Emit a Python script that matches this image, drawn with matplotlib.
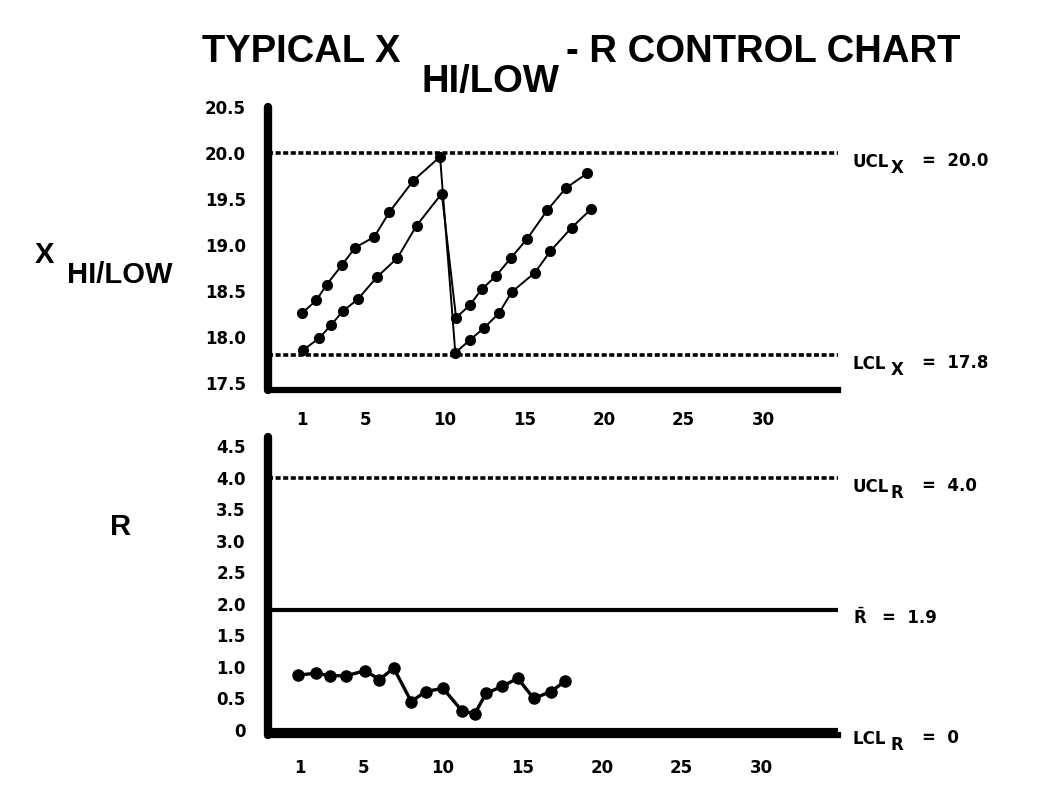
import matplotlib
matplotlib.use("Agg")
import matplotlib.pyplot as plt

# ---------------- data ----------------
# X HI/LOW chart: two traces (first 9 points then second 9 points after the drop)
x_trace_a = [1.0, 1.9, 2.55, 3.5, 4.33, 5.55, 6.5, 8.0, 9.68,
             10.64, 11.57, 12.45, 13.39, 14.19, 15.65, 16.6, 17.96, 19.18]
y_trace_a = [18.26, 18.40, 18.57, 18.78, 18.97, 19.09, 19.36, 19.70, 19.96,
             17.83, 17.97, 18.10, 18.26, 18.49, 18.70, 18.93, 19.19, 19.39]
x_trace_b = [1.08, 2.09, 2.82, 3.56, 4.5, 5.7, 7.0, 8.2, 9.79,
             10.69, 11.57, 12.3, 13.18, 14.14, 15.17, 16.43, 17.6, 18.94]
y_trace_b = [17.86, 17.99, 18.13, 18.28, 18.41, 18.65, 18.86, 19.21, 19.56,
             18.21, 18.35, 18.52, 18.66, 18.86, 19.07, 19.38, 19.62, 19.78]

# R chart
x_range = [0.9, 2.0, 2.9, 3.9, 5.1, 6.0, 6.9, 8.0, 8.9, 10.0,
           11.2, 12.0, 12.7, 13.7, 14.7, 15.7, 16.8, 17.7]
r_values = [0.87, 0.90, 0.86, 0.86, 0.94, 0.80, 0.98, 0.45, 0.61, 0.66,
            0.30, 0.26, 0.58, 0.69, 0.82, 0.50, 0.61, 0.78]

# control limits
ucl_x, lcl_x = 20.0, 17.8
ucl_r, r_bar, lcl_r = 4.0, 1.9, 0.0

x_ticks = [1, 5, 10, 15, 20, 25, 30]
x_tick_labels = ["1", "5", "10", "15", "20", "25", "30"]
y_ticks_x = [17.5, 18.0, 18.5, 19.0, 19.5, 20.0, 20.5]
y_tick_labels_x = ["17.5", "18.0", "18.5", "19.0", "19.5", "20.0", "20.5"]
y_ticks_r = [0, 0.5, 1.0, 1.5, 2.0, 2.5, 3.0, 3.5, 4.0, 4.5]
y_tick_labels_r = ["0", "0.5", "1.0", "1.5", "2.0", "2.5", "3.0", "3.5", "4.0", "4.5"]

# ---------------- figure ----------------
W, H = 1058, 795
fig = plt.figure(figsize=(W / 100, H / 100), dpi=100)
fig.patch.set_facecolor("white")


def fx(px):
    return px / W


def fy(py):
    return 1 - py / H


ax1 = fig.add_axes([fx(268), fy(390), (838 - 268) / W, (390 - 107) / H])
ax2 = fig.add_axes([fx(268), fy(735), (838 - 268) / W, (735 - 437) / H])

tick_font = dict(family="DejaVu Sans", weight="bold", size=12)
dots = (0, (1.4, 0.7))

for ax in (ax1, ax2):
    for s in ("top", "right"):
        ax.spines[s].set_visible(False)
    ax.spines["left"].set_linewidth(6)
    ax.spines["bottom"].set_linewidth(4.5)
    ax.spines["left"].set_capstyle("round")
    ax.tick_params(length=0)
    ax.set_xticks(x_ticks)
    ax.set_xticklabels(x_tick_labels, fontdict=tick_font)

# ---- X HI/LOW chart ----
ax1.set_xlim(-1.14, 34.71)
ax1.set_ylim(17.425, 20.45)
ax1.set_yticks(y_ticks_x)
ax1.set_yticklabels(y_tick_labels_x, fontdict=tick_font)
ax1.tick_params(axis="y", pad=16)
ax1.tick_params(axis="x", pad=15)

ax1.axhline(ucl_x, color="black", lw=2.6, linestyle=dots)
ax1.axhline(lcl_x, color="black", lw=2.6, linestyle=dots)
ax1.plot(x_trace_a, y_trace_a, color="black", lw=1.4, marker="o", ms=7, clip_on=False)
ax1.plot(x_trace_b, y_trace_b, color="black", lw=1.4, marker="o", ms=7, clip_on=False)

# ---- R chart ----
ax2.set_xlim(-1.01, 34.84)
ax2.set_ylim(-0.079, 4.643)
ax2.set_yticks(y_ticks_r)
ax2.set_yticklabels(y_tick_labels_r, fontdict=tick_font)
ax2.tick_params(axis="y", pad=16)
ax2.tick_params(axis="x", pad=17)

ax2.axhline(ucl_r, color="black", lw=2.6, linestyle=dots)
ax2.axhline(r_bar, color="black", lw=3)
ax2.axhline(lcl_r, color="black", lw=3)
ax2.plot(x_range, r_values, color="black", lw=2.4, marker="o", ms=8, clip_on=False)

# ---- limit labels on the right ----
lab_font = dict(family="DejaVu Sans", weight="bold", size=12)
PX = 0.72  # pixels -> points


def limit_label(ax, yval, main, sub, rest, x_sub=53, x_rest=84):
    common = dict(xycoords=("axes fraction", "data"), textcoords="offset points",
                  ha="left", va="baseline", annotation_clip=False, **lab_font)
    ax.annotate(main, xy=(1, yval), xytext=(15 * PX, -14 * PX), **common)
    if sub:
        ax.annotate(sub, xy=(1, yval), xytext=(x_sub * PX, -20 * PX), **common)
    ax.annotate(rest, xy=(1, yval), xytext=(x_rest * PX, -13 * PX), **common)


limit_label(ax1, ucl_x, "UCL", "X", "=  20.0")
limit_label(ax1, lcl_x, "LCL", "X", "=  17.8")
limit_label(ax2, ucl_r, "UCL", "R", "=  4.0")
limit_label(ax2, r_bar, r"$\bar{\mathbf{R}}$", "", "=  1.9", x_rest=44)
limit_label(ax2, lcl_r, "LCL", "R", "=  0")

# ---- title ----
title_font = dict(family="Liberation Sans", weight="bold", size=27.5,
                  ha="left", va="baseline")
fig.text(fx(202), fy(62), "TYPICAL X", **title_font)
fig.text(fx(422), fy(92), "HI/LOW", **title_font)
fig.text(fx(566), fy(62), "- R CONTROL CHART", **title_font)

# ---- left axis names ----
side_font = dict(family="Liberation Sans", weight="bold", size=21,
                 ha="left", va="baseline")
fig.text(fx(35), fy(263), "X", **side_font)
fig.text(fx(67), fy(283), "HI/LOW", **side_font)
fig.text(fx(110), fy(535), "R", **side_font)

fig.savefig("out.png", dpi=100, facecolor="white")
